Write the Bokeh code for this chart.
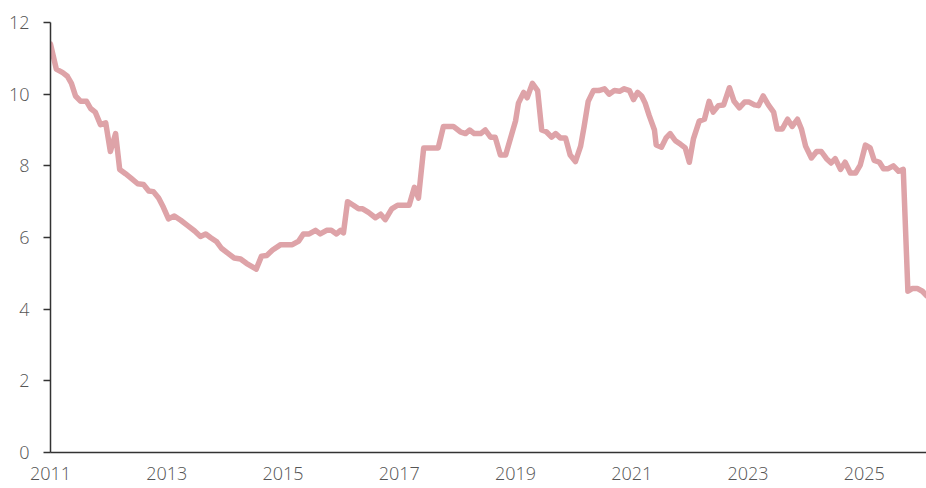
from bokeh.plotting import figure
from bokeh.models import FixedTicker, Range1d
from bokeh.embed import file_html
from bokeh.resources import INLINE

years = [2011.00, 2011.10, 2011.21, 2011.29, 2011.36, 2011.43, 2011.52, 2011.62, 2011.69, 2011.77,
         2011.86, 2011.95, 2012.03, 2012.12, 2012.19, 2012.29, 2012.39, 2012.50, 2012.60, 2012.69,
         2012.77, 2012.86, 2012.94, 2013.03, 2013.13, 2013.24, 2013.36, 2013.48, 2013.58, 2013.67,
         2013.75, 2013.86, 2013.94, 2014.06, 2014.16, 2014.27, 2014.37, 2014.54, 2014.63, 2014.72,
         2014.82, 2014.96, 2015.16, 2015.27, 2015.35, 2015.45, 2015.56, 2015.64, 2015.75, 2015.83,
         2015.92, 2015.99, 2016.04, 2016.11, 2016.21, 2016.30, 2016.37, 2016.47, 2016.59, 2016.68,
         2016.76, 2016.87, 2016.97, 2017.05, 2017.17, 2017.26, 2017.33, 2017.42, 2017.55, 2017.67,
         2017.76, 2017.93, 2018.05, 2018.14, 2018.21, 2018.29, 2018.40, 2018.48, 2018.57, 2018.65,
         2018.74, 2018.83, 2018.91, 2019.00, 2019.05, 2019.14, 2019.20, 2019.29, 2019.38, 2019.45,
         2019.53, 2019.62, 2019.69, 2019.77, 2019.86, 2019.94, 2020.03, 2020.12, 2020.18, 2020.25,
         2020.34, 2020.43, 2020.53, 2020.61, 2020.70, 2020.79, 2020.87, 2020.96, 2021.03, 2021.10,
         2021.17, 2021.23, 2021.30, 2021.39, 2021.42, 2021.51, 2021.59, 2021.66, 2021.75, 2021.84,
         2021.92, 2021.99, 2022.06, 2022.16, 2022.25, 2022.33, 2022.40, 2022.49, 2022.58, 2022.68,
         2022.76, 2022.85, 2022.94, 2023.02, 2023.11, 2023.18, 2023.26, 2023.35, 2023.44, 2023.50,
         2023.59, 2023.68, 2023.76, 2023.85, 2023.92, 2023.99, 2024.09, 2024.18, 2024.26, 2024.35,
         2024.43, 2024.50, 2024.59, 2024.67, 2024.76, 2024.85, 2024.93, 2025.02, 2025.10, 2025.17,
         2025.26, 2025.33, 2025.41, 2025.50, 2025.59, 2025.67, 2025.75, 2025.83, 2025.91, 2026.00,
         2026.07]

values = [11.4, 10.7, 10.6, 10.5, 10.3, 9.95, 9.8, 9.8, 9.6, 9.5,
          9.15, 9.2, 8.4, 8.9, 7.9, 7.78, 7.65, 7.5, 7.48, 7.3,
          7.28, 7.1, 6.85, 6.52, 6.6, 6.48, 6.33, 6.18, 6.03, 6.1,
          6.0, 5.88, 5.7, 5.55, 5.43, 5.4, 5.28, 5.12, 5.48, 5.5,
          5.65, 5.8, 5.8, 5.9, 6.1, 6.1, 6.2, 6.1, 6.2, 6.2,
          6.1, 6.2, 6.13, 7.0, 6.9, 6.8, 6.8, 6.7, 6.55, 6.65,
          6.5, 6.8, 6.9, 6.9, 6.9, 7.4, 7.1, 8.5, 8.5, 8.5,
          9.1, 9.1, 8.95, 8.9, 9.0, 8.9, 8.9, 9.0, 8.8, 8.8,
          8.3, 8.3, 8.75, 9.25, 9.75, 10.05, 9.9, 10.3, 10.1, 9.0,
          8.95, 8.8, 8.9, 8.78, 8.78, 8.3, 8.12, 8.55, 9.1, 9.8,
          10.1, 10.1, 10.15, 10.0, 10.1, 10.08, 10.15, 10.1, 9.85, 10.05,
          9.95, 9.75, 9.4, 9.0, 8.58, 8.52, 8.78, 8.9, 8.7, 8.6,
          8.5, 8.1, 8.75, 9.25, 9.3, 9.8, 9.5, 9.68, 9.7, 10.18,
          9.8, 9.62, 9.78, 9.78, 9.7, 9.68, 9.95, 9.7, 9.5, 9.03,
          9.03, 9.3, 9.1, 9.3, 9.02, 8.55, 8.22, 8.4, 8.4, 8.2,
          8.08, 8.2, 7.9, 8.1, 7.8, 7.8, 8.02, 8.58, 8.5, 8.15,
          8.1, 7.92, 7.92, 8.0, 7.85, 7.9, 4.5, 4.58, 4.58, 4.5,
          4.38]

x_ticks = [2011, 2013, 2015, 2017, 2019, 2021, 2023, 2025]
x_tick_labels = ["2011", "2013", "2015", "2017", "2019", "2021", "2023", "2025"]
y_ticks = [0, 2, 4, 6, 8, 10, 12]

p = figure(width=926, height=488, output_backend="svg", toolbar_location=None,
           x_range=Range1d(2011, 2026.07), y_range=Range1d(0, 12),
           min_border_left=50, min_border_right=0, min_border_top=22, min_border_bottom=36)

p.line(years, values, line_color="#dea3a8", line_width=5.5, line_join="round", line_cap="round")

p.grid.visible = False
p.outline_line_color = None
p.background_fill_color = "white"
p.border_fill_color = "white"

xa = p.xaxis[0]
xa.ticker = FixedTicker(ticks=x_ticks)
xa.major_label_overrides = {t: l for t, l in zip(x_ticks, x_tick_labels)}
xa.major_tick_out = 0
xa.major_tick_in = 0
xa.minor_tick_out = 0
xa.minor_tick_in = 0
xa.major_label_standoff = 14

ya = p.yaxis[0]
ya.ticker = FixedTicker(ticks=y_ticks)
ya.major_tick_out = 7
ya.major_tick_in = 0
ya.minor_tick_out = 0
ya.minor_tick_in = 0
ya.major_label_standoff = 14

for ax in (xa, ya):
    ax.axis_line_color = "#333333"
    ax.axis_line_width = 1.5
    ax.major_tick_line_color = "#333333"
    ax.major_tick_line_width = 1.5
    ax.major_label_text_font = "Open Sans Light, Open Sans"
    ax.major_label_text_font_size = "18px"
    ax.major_label_text_color = "#555555"

open("out.html", "w").write(file_html(p, INLINE))
